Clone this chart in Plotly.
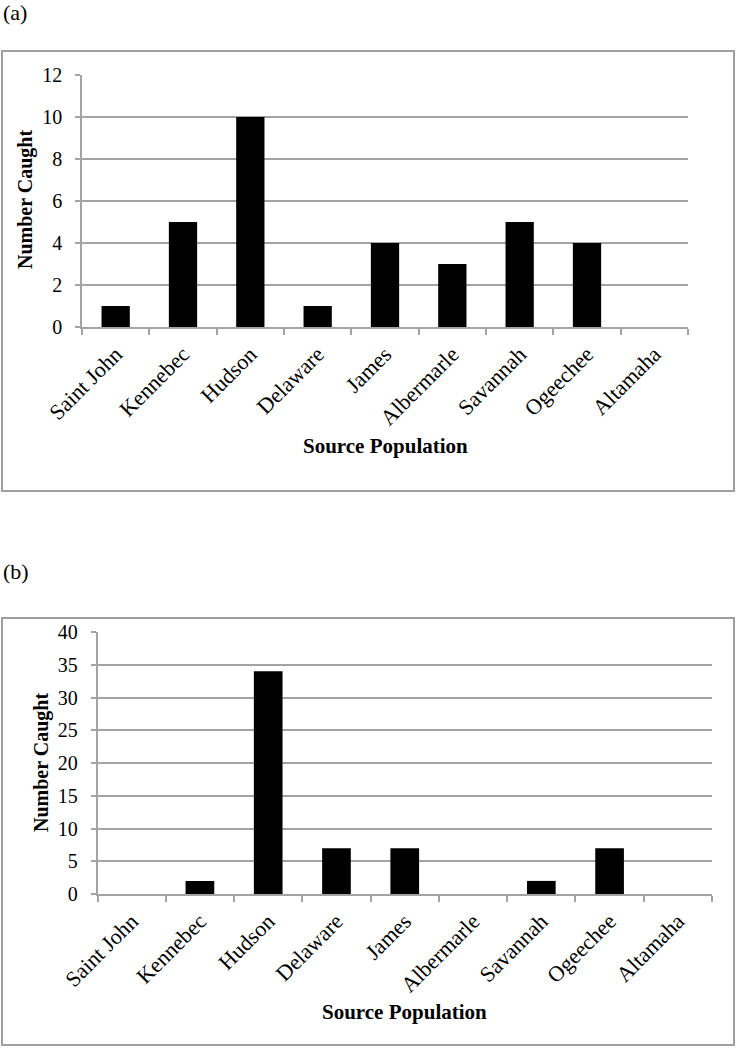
import plotly.graph_objects as go

categories = ["Saint John", "Kennebec", "Hudson", "Delaware", "James",
              "Albermarle", "Savannah", "Ogeechee", "Altamaha"]
caught_a = [1, 5, 10, 1, 4, 3, 5, 4, 0]
caught_b = [0, 2, 34, 7, 7, 0, 2, 7, 0]
yticks_a = [0, 2, 4, 6, 8, 10, 12]
yticks_b = [0, 5, 10, 15, 20, 25, 30, 35, 40]

W, H = 736, 1049
FONT = "Liberation Serif"
GRID = "#a3a3a3"

def px(x):
    return x / W

def py(y):
    return 1 - y / H

fig = go.Figure()
fig.add_trace(go.Bar(x=categories, y=caught_a, xaxis="x", yaxis="y",
                     marker=dict(color="black", line=dict(width=0))))
fig.add_trace(go.Bar(x=categories, y=caught_b, xaxis="x2", yaxis="y2",
                     marker=dict(color="black", line=dict(width=0))))

xcommon = dict(type="category", showgrid=False, showline=True, linecolor=GRID, linewidth=1.5,
               ticks="outside", tickson="boundaries", ticklen=6, tickcolor=GRID, tickwidth=1.5,
               tickangle=-45, automargin=False, ticklabelstandoff=4,
               tickfont=dict(family=FONT, size=22, color="black"))
ycommon = dict(showgrid=True, gridcolor=GRID, gridwidth=1.5, showline=True, linecolor=GRID,
               linewidth=1.5, ticks="outside", ticklen=5, tickcolor=GRID, tickwidth=1.5,
               zeroline=False, automargin=False, ticklabelstandoff=9,
               tickfont=dict(family=FONT, size=20, color="black"))

fig.update_layout(
    template="none",
    width=W, height=H, margin=dict(l=0, r=0, t=0, b=0, pad=0), autosize=False,
    paper_bgcolor="white", plot_bgcolor="white", showlegend=False, bargap=0.58,
    xaxis=dict(domain=[px(82), px(688)], anchor="y", **xcommon),
    yaxis=dict(domain=[py(327), py(75)], anchor="x", range=[0, 12], tickvals=yticks_a, **ycommon),
    xaxis2=dict(domain=[px(97.5), px(712)], anchor="y2", **xcommon),
    yaxis2=dict(domain=[py(894), py(632)], anchor="x2", range=[0, 40], tickvals=yticks_b, **ycommon),
)

shapes = []
for (y0, y1) in [(51, 491), (618, 1045)]:
    shapes.append(dict(type="rect", xref="paper", yref="paper", x0=px(2), x1=px(734),
                       y0=py(y1), y1=py(y0), line=dict(color="#a0a0a0", width=2)))
fig.update_layout(shapes=shapes)

ann = [
    dict(text="(a)", x=px(1), y=py(13), xanchor="left", yanchor="middle", font=dict(size=22)),
    dict(text="(b)", x=px(1), y=py(571), xanchor="left", yanchor="middle", font=dict(size=22)),
    dict(text="<b>Source Population</b>", x=px(385), y=py(446), xanchor="center", yanchor="middle", font=dict(size=21)),
    dict(text="<b>Source Population</b>", x=px(404), y=py(1012), xanchor="center", yanchor="middle", font=dict(size=21)),
    dict(text="<b>Number Caught</b>", x=px(25), y=py(200), xanchor="center", yanchor="middle", textangle=-90, font=dict(size=20)),
    dict(text="<b>Number Caught</b>", x=px(41), y=py(763), xanchor="center", yanchor="middle", textangle=-90, font=dict(size=20)),
]
for a in ann:
    a.update(xref="paper", yref="paper", showarrow=False)
    a["font"].update(family=FONT, color="black")
fig.update_layout(annotations=ann)

fig.write_html("out.html", config={"displayModeBar": False},
               post_script="document.body.style.margin='0';document.body.style.padding='0';")
